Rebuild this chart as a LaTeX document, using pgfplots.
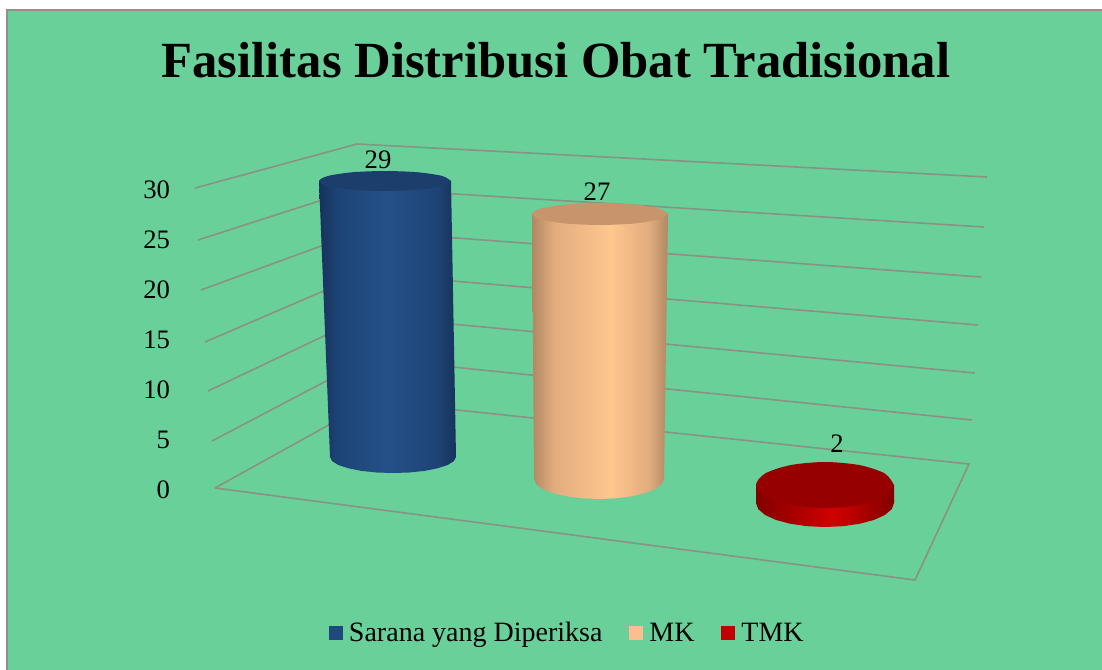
\documentclass[border=0pt]{standalone}
\usepackage{pgfplots}
\usepackage{fontspec}
\setmainfont{Liberation Serif}
\pgfplotsset{compat=1.18}
\definecolor{bgg}{RGB}{106,208,154}
\definecolor{frm}{RGB}{142,146,140}
\definecolor{grd}{RGB}{138,146,130}
\definecolor{be}{RGB}{22,50,90}
\definecolor{bq}{RGB}{30,68,118}
\definecolor{bm}{RGB}{36,80,136}
\definecolor{bt}{RGB}{28,62,108}
\definecolor{pe}{RGB}{176,136,100}
\definecolor{pq}{RGB}{226,172,126}
\definecolor{pm}{RGB}{255,198,142}
\definecolor{pt}{RGB}{200,148,108}
\definecolor{re}{RGB}{130,0,0}
\definecolor{rm}{RGB}{208,0,0}
\definecolor{rt}{RGB}{150,0,0}
\definecolor{lb}{RGB}{31,73,125}
\definecolor{lp}{RGB}{250,190,144}
\definecolor{lr}{RGB}{192,0,0}
\pgfdeclarehorizontalshading{blueC}{100bp}{color(0bp)=(be); color(25bp)=(be); color(32bp)=(bq); color(50bp)=(bm); color(68bp)=(bq); color(75bp)=(be); color(100bp)=(be)}
\pgfdeclarehorizontalshading{peachC}{100bp}{color(0bp)=(pe); color(25bp)=(pe); color(33bp)=(pq); color(54bp)=(pm); color(68bp)=(pq); color(75bp)=(pe); color(100bp)=(pe)}
\pgfdeclarehorizontalshading{redC}{100bp}{color(0bp)=(re); color(25bp)=(re); color(53bp)=(rm); color(75bp)=(re); color(100bp)=(re)}
\pgfplotstableread{
x y v
378 32.8 29
597 29.6 27
837 4.4 2
}\valuetable
\begin{document}
\begin{tikzpicture}
\begin{axis}[
  width=826.5pt, height=501.75pt, scale only axis,
  xmin=0, xmax=1102, ymin=-18.1, ymax=48.8,
  axis line style={draw=none}, major tick style={draw=none},
  axis on top, axis background/.style={fill=white},
  xtick=\empty, ytick={0,5,10,15,20,25,30},
  /pgf/number format/assume math mode=true,
  yticklabel style={font=\fontsize{20}{22}\selectfont, anchor=east, xshift=131pt, yshift=-1.5pt},
  legend columns=3,
  legend style={at={(0.515,0.054)}, anchor=center, draw=none, fill=none,
    font=\fontsize{21}{23}\selectfont,
    /tikz/every even column/.append style={column sep=18pt}},
  legend image code/.code={\fill[#1,draw=none] (0pt,-5.25pt) rectangle (10.5pt,5.25pt); \path (13pt,0pt);},
]
\addlegendimage{fill=lb}\addlegendentry{Sarana yang Diperiksa}
\addlegendimage{fill=lp}\addlegendentry{MK}
\addlegendimage{fill=lr}\addlegendentry{TMK}
\addplot[fill=bgg, draw=frm, line width=1.5pt] coordinates {(7,47.8)(1110,47.8)(1110,-20)(7,-20)} --cycle;
% gridlines
\addplot[grd, line width=1.2pt] coordinates {(195,30.0)(357,34.4)(987,31.1)};
\addplot[grd, line width=1.2pt] coordinates {(198,24.8)(359.5,30.0)(984,26.1)};
\addplot[grd, line width=1.2pt] coordinates {(201,19.8)(362,25.7)(981,21.1)};
\addplot[grd, line width=1.2pt] coordinates {(205,14.6)(364,21.44)(978,16.3)};
\addplot[grd, line width=1.2pt] coordinates {(208,9.7)(366,17.2)(975,11.5)};
\addplot[grd, line width=1.2pt] coordinates {(212,4.7)(369,12.95)(972,6.8)};
\addplot[grd, line width=1.2pt] coordinates {(215,0)(372,8.7)(969,2.4)(915,-9.2)(215,0)};
% blue cylinder
\addplot[shading=blueC, draw=none] coordinates {(319,30.7)(330,3.1)(332.1,2.69)(338.4,2.3)(348.5,1.97)(361.5,1.71)(376.7,1.55)(393,1.5)(409.3,1.55)(424.5,1.71)(437.5,1.97)(447.6,2.3)(453.9,2.69)(456,3.1)(451,30.7)} --cycle;
\addplot[fill=bt, draw=none, smooth] coordinates {(451,30.7)(442.2,31.2)(418,31.57)(385,31.7)(352,31.57)(327.8,31.2)(319,30.7)(327.8,30.2)(352,29.83)(385,29.7)(418,29.83)(442.2,30.2)(451,30.7)} --cycle;
% peach cylinder
\addplot[shading=peachC, draw=none] coordinates {(532,27.4)(534,.9)(536.2,.38)(542.7,-.1)(553,-.51)(566.5,-.83)(582.2,-1.03)(599,-1.1)(615.8,-1.03)(631.5,-.83)(645,-.51)(655.3,-.1)(661.8,.38)(664,.9)(668,27.4)} --cycle;
\addplot[fill=pt, draw=none, smooth] coordinates {(668,27.4)(658.9,27.95)(634,28.35)(600,28.5)(566,28.35)(541.1,27.95)(532,27.4)(541.1,26.85)(566,26.45)(600,26.3)(634,26.45)(658.9,26.85)(668,27.4)} --cycle;
% red cylinder
\addplot[shading=redC, draw=none] coordinates {(756,.3)(756,-1.5)(758.3,-2.12)(765.2,-2.7)(776.2,-3.2)(790.5,-3.58)(807.1,-3.82)(825,-3.9)(842.9,-3.82)(859.5,-3.58)(873.8,-3.2)(884.8,-2.7)(891.7,-2.12)(894,-1.5)(894,.3)} --cycle;
\addplot[fill=rt, draw=none, smooth] coordinates {(894,.3)(884.8,1.45)(859.5,2.29)(825,2.6)(790.5,2.29)(765.2,1.45)(756,.3)(765.2,-.85)(790.5,-1.69)(825,-2)(859.5,-1.69)(884.8,-.85)(894,.3)} --cycle;
% value labels
\addplot[draw=none, point meta=explicit, nodes near coords,
  nodes near coords style={anchor=center, font=\fontsize{20}{22}\selectfont, inner sep=0pt, /pgf/number format/assume math mode=true}]
  table[x=x, y=y, meta=v] {\valuetable};
\node[font=\fontsize{38}{40}\selectfont\bfseries] at (axis cs:556,42.8) {Fasilitas Distribusi Obat Tradisional};
\end{axis}
\end{tikzpicture}
\end{document}
